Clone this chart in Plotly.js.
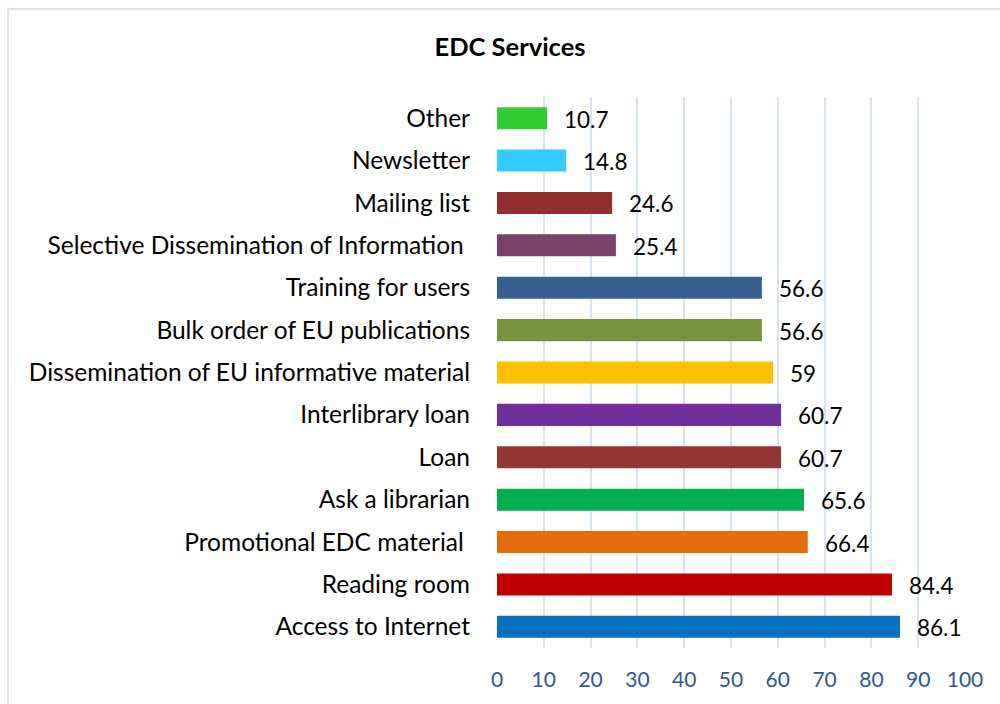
<!DOCTYPE html>
<html>
<head>
<meta charset="utf-8">
<script src="https://cdn.plot.ly/plotly-3.0.1.min.js"></script>
<style>
  html, body { margin: 0; padding: 0; background: #ffffff; overflow: hidden; }
  #wrap { position: relative; width: 1000px; height: 704px; }
  #frame { position: absolute; left: 7px; top: 8px; width: 1010px; height: 720px; border: 2px solid #DAE3F3; box-sizing: border-box; pointer-events: none; z-index: 2; }
  #chart { position: absolute; left: 0; top: 0; width: 1000px; height: 704px; }
</style>
</head>
<body>
<div id="wrap">
  <div id="chart"></div>
  <div id="frame"></div>
</div>
<script>
const categories = [
  "Access to Internet",
  "Reading room",
  "Promotional EDC material ",
  "Ask a librarian",
  "Loan",
  "Interlibrary loan",
  "Dissemination of EU informative material",
  "Bulk order of EU publications",
  "Training for users",
  "Selective Dissemination of Information ",
  "Mailing list",
  "Newsletter",
  "Other"
];
const values = [86.1, 84.4, 66.4, 65.6, 60.7, 60.7, 59, 56.6, 56.6, 25.4, 24.6, 14.8, 10.7];
const barColors = [
  "#0070C0", "#C00000", "#E46C0A", "#00B050", "#943634", "#7030A0",
  "#FFC000", "#77933C", "#366092", "#7B4169", "#922E2E", "#33CCFF", "#33CC33"
];
const xTicks = [0, 10, 20, 30, 40, 50, 60, 70, 80, 90, 100];

const FONT = "Lato, 'Noto Sans', sans-serif";

const trace = {
  type: "bar",
  orientation: "h",
  y: categories,
  x: values,
  marker: { color: barColors, line: { width: 0 } },
  width: 0.52,
  hoverinfo: "x+y"
};

const annotations = categories.map((c, i) => ({
  x: values[i], y: c, xref: "x", yref: "y",
  text: String(values[i]),
  showarrow: false, xanchor: "left", yanchor: "middle",
  xshift: 15, yshift: -1,
  font: { family: FONT, size: 22.5, color: "#000000" }
}));

const layout = {
  width: 1000, height: 704,
  margin: { l: 497, r: 35, t: 97, b: 56, pad: 0 },
  paper_bgcolor: "rgba(0,0,0,0)",
  plot_bgcolor: "rgba(0,0,0,0)",
  showlegend: false,
  title: {
    text: "<b>EDC Services</b>",
    x: 0.51, xanchor: "center",
    y: 0.933, yanchor: "middle",
    font: { family: FONT, size: 25.5, color: "#000000" }
  },
  xaxis: {
    range: [0, 100],
    tickmode: "array",
    tickvals: xTicks,
    ticktext: xTicks.map(String),
    showgrid: true, gridcolor: "#D6E3F4", gridwidth: 2,
    zeroline: false, showline: false,
    ticks: "", ticklabelstandoff: 17,
    tickfont: { family: FONT, size: 21, color: "#2F5597" },
    fixedrange: true
  },
  yaxis: {
    type: "category",
    range: [-0.5, 12.5],
    showgrid: false, zeroline: false, showline: false,
    ticks: "", ticklabelstandoff: 26,
    tickfont: { family: FONT, size: 24.5, color: "#000000" },
    automargin: false,
    fixedrange: true
  },
  annotations: annotations,
  bargap: 0.48
};

Plotly.newPlot("chart", [trace], layout, { displayModeBar: false, staticPlot: true });
</script>
</body>
</html>
